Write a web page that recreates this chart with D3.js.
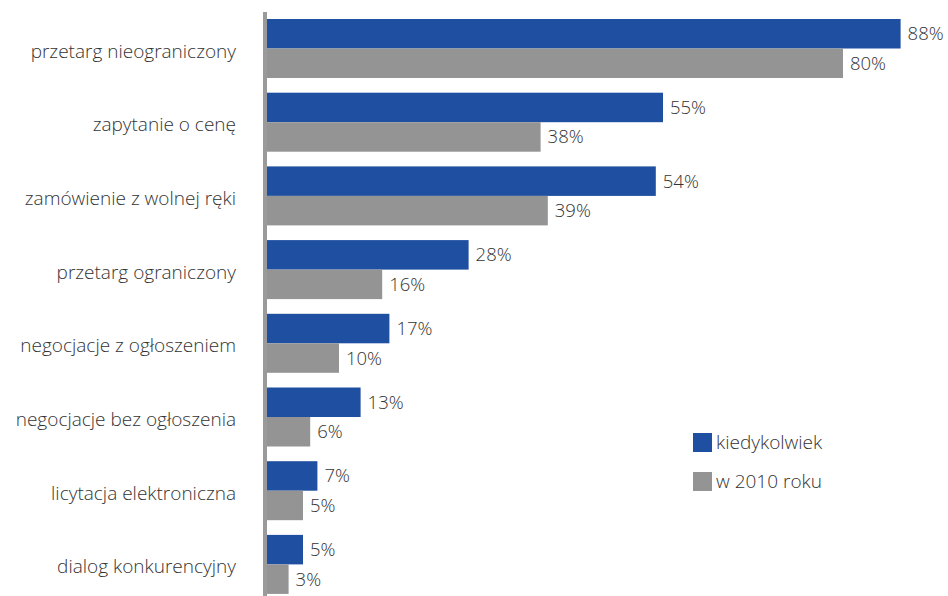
<!DOCTYPE html>
<html>
<head>
<meta charset="utf-8">
<script src="https://cdn.jsdelivr.net/npm/d3@7"></script>
<style>
  html, body { margin: 0; padding: 0; background: #fff; }
  svg { display: block; }
  text { font-family: "Open Sans", "Noto Sans", sans-serif; font-weight: 300; fill: #333; }
</style>
</head>
<body>
<svg id="chart" width="948" height="596"></svg>
<script>
// Procurement procedures: share of respondents who used each one
const categories = [
  "przetarg nieograniczony",
  "zapytanie o cenę",
  "zamówienie z wolnej ręki",
  "przetarg ograniczony",
  "negocjacje z ogłoszeniem",
  "negocjacje bez ogłoszenia",
  "licytacja elektroniczna",
  "dialog konkurencyjny"
];
const everValues = [88, 55, 54, 28, 17, 13, 7, 5];   // kiedykolwiek
const y2010Values = [80, 38, 39, 16, 10, 6, 5, 3];   // w 2010 roku
const seriesNames = ["kiedykolwiek", "w 2010 roku"];
const seriesColors = ["#1f4fa0", "#949494"];

const svg = d3.select("#chart");
const axisX = 267;

const x = d3.scaleLinear().domain([0, 100]).range([axisX, axisX + 720]);
// One band per category; each band starts with the blue bar, gray bar right below
const yGroup = d3.scaleBand()
  .domain(categories)
  .range([19, 19 + 73.7 * 8])
  .padding(0);
const barH = 29.5;

const rows = categories.map((c, i) => ({ cat: c, vals: [everValues[i], y2010Values[i]] }));

const g = svg.append("g");

rows.forEach(row => {
  const top = yGroup(row.cat);
  row.vals.forEach((v, k) => {
    const y0 = top + k * barH;
    g.append("rect")
      .attr("x", x(0))
      .attr("y", y0)
      .attr("width", x(v) - x(0))
      .attr("height", barH)
      .attr("fill", seriesColors[k]);
    g.append("text")
      .attr("x", x(v) + 7)
      .attr("y", y0 + barH / 2 + 6.5)
      .attr("font-size", 18.5)
      .text(v + "%");
  });
  g.append("text")
    .attr("x", 236)
    .attr("y", top + barH + 9)
    .attr("text-anchor", "end")
    .attr("font-size", 19)
    .text(row.cat);
});

// Vertical category axis line
svg.append("rect")
  .attr("x", axisX - 4)
  .attr("y", 12)
  .attr("width", 4)
  .attr("height", 596 - 12)
  .attr("fill", "#9a9a9a");

// Legend
const legend = svg.append("g").attr("transform", "translate(693,433)");
seriesNames.forEach((name, k) => {
  const row = legend.append("g").attr("transform", `translate(0,${k * 39})`);
  row.append("rect").attr("width", 19).attr("height", 19).attr("fill", seriesColors[k]);
  row.append("text").attr("x", 23).attr("y", 16).attr("font-size", 19).text(name);
});
</script>
</body>
</html>
